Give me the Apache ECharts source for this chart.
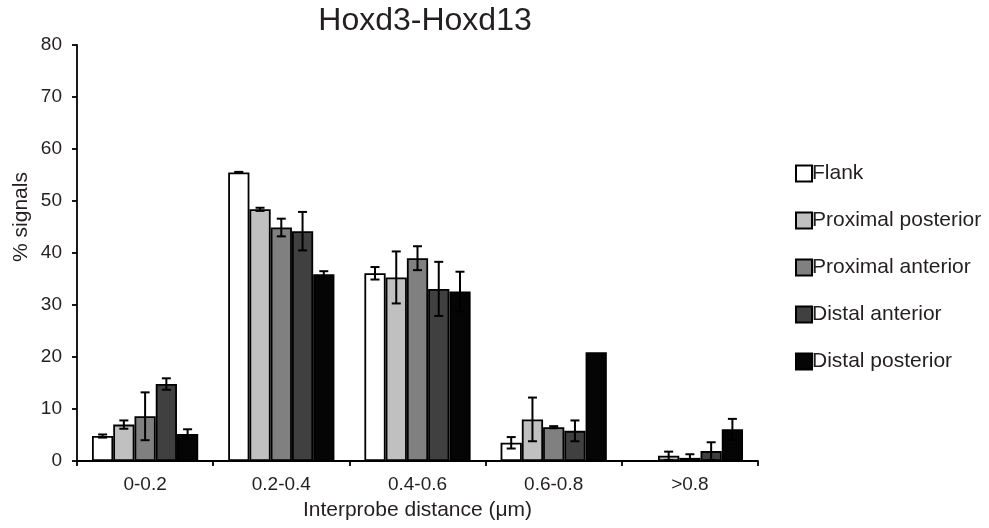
<!DOCTYPE html>
<html><head><meta charset="utf-8">
<script src="https://cdn.jsdelivr.net/npm/echarts@6/dist/echarts.min.js"></script>
<style>html,body{margin:0;padding:0;background:#fff}#c{width:989px;height:528px}</style>
</head><body><div id="c"></div>
<script>
var categories = ['0-0.2', '0.2-0.4', '0.4-0.6', '0.6-0.8', '>0.8'];
var seriesNames = ['Flank', 'Proximal posterior', 'Proximal anterior', 'Distal anterior', 'Distal posterior'];
var colors = ['#ffffff', '#c0c0c0', '#808080', '#404040', '#050505'];
var flank = [4.8, 55.5, 36.1, 3.5, 0];
var proxPost = [7.0, 48.4, 35.3, 8.0, 1.0];
var proxAnt = [8.6, 44.9, 39.0, 6.5, 0.6];
var distAnt = [14.8, 44.2, 33.1, 5.8, 1.9];
var distPost = [5.2, 35.9, 32.6, 20.9, 6.1];
var flankErr = [0.3, 0.1, 1.2, 1.1, 0];
var proxPostErr = [0.8, 0.3, 5.0, 4.2, 0.8];
var proxAntErr = [4.6, 1.7, 2.3, 0.2, 0.7];
var distAntErr = [1.1, 3.7, 5.2, 2.0, 1.7];
var distPostErr = [0.9, 0.6, 3.8, 0, 2.0];
var yTicks = [0, 10, 20, 30, 40, 50, 60, 70, 80];

var values = [flank, proxPost, proxAnt, distAnt, distPost];
var errs = [flankErr, proxPostErr, proxAntErr, distAntErr, distPostErr];
var catGap = 0.22;
var n = values.length;
var FONT = 'Liberation Sans, Arial, sans-serif';
var TXT = '#231f20';

var chart = echarts.init(document.getElementById('c'));
var series = [];
values.forEach(function (vals, si) {
  series.push({
    name: seriesNames[si], type: 'bar', data: vals,
    barGap: '0%', barCategoryGap: (catGap * 100) + '%',
    itemStyle: { color: colors[si], borderColor: '#000', borderWidth: 1.8 },
    z: 2
  });
});
values.forEach(function (vals, si) {
  var data = vals.map(function (v, i) { return [i, v, errs[si][i]]; });
  series.push({
    type: 'custom', name: seriesNames[si] + ' err', data: data, z: 5,
    silent: true, legendHoverLink: false,
    renderItem: function (params, api) {
      var idx = api.value(0), v = api.value(1), e = api.value(2);
      if (!e) return null;
      var band = api.size([1, 0])[0];
      var bw = band * (1 - catGap) / n;
      var c = api.coord([idx, v]);
      var x = c[0] - band * (1 - catGap) / 2 + (si + 0.5) * bw;
      var yt = api.coord([idx, v + e])[1];
      var yb = api.coord([idx, Math.max(0, v - e)])[1];
      var cap = 4.5;
      var st = { stroke: '#000', lineWidth: 2, fill: null };
      return { type: 'group', children: [
        { type: 'line', shape: { x1: x, y1: yt, x2: x, y2: yb }, style: st },
        { type: 'line', shape: { x1: x - cap, y1: yt, x2: x + cap, y2: yt }, style: st },
        { type: 'line', shape: { x1: x - cap, y1: yb, x2: x + cap, y2: yb }, style: st }
      ]};
    }
  });
});

chart.setOption({
  animation: false,
  textStyle: { fontFamily: FONT },
  title: { text: 'Hoxd3-Hoxd13', left: 420, top: 0, textAlign: 'center',
    textStyle: { fontSize: 32, fontWeight: 'normal', color: TXT, fontFamily: FONT } },
  grid: { left: 77, right: 231, top: 45, bottom: 67 },
  legend: {
    orient: 'vertical', left: 795, top: 163, padding: 0, itemGap: 26, itemWidth: 16, itemHeight: 16,
    data: seriesNames,
    textStyle: { fontSize: 21, lineHeight: 21, color: TXT, padding: [0, 0, 0, -5] },
    icon: 'rect'
  },
  xAxis: {
    type: 'category', data: categories,
    name: 'Interprobe distance (\u03bcm)', nameLocation: 'middle', nameGap: 39,
    nameTextStyle: { fontSize: 21, color: TXT },
    axisLine: { lineStyle: { color: '#000', width: 1.8 } },
    axisTick: { show: true, length: 5, lineStyle: { color: '#000', width: 1.8 } },
    axisLabel: { fontSize: 19, color: TXT, margin: 14 }
  },
  yAxis: {
    type: 'value', min: yTicks[0], max: yTicks[yTicks.length - 1], interval: yTicks[1] - yTicks[0],
    splitLine: { show: false },
    axisLine: { show: true, lineStyle: { color: '#000', width: 1.8 } },
    axisTick: { show: true, length: 5, lineStyle: { color: '#000', width: 1.8 } },
    axisLabel: { fontSize: 19, color: TXT, margin: 15 }
  },
  graphic: [{
    type: 'text', x: 21, y: 217, rotation: Math.PI / 2,
    style: { text: '% signals', fontSize: 21, fill: TXT, align: 'center', verticalAlign: 'middle',
      fontFamily: FONT }
  }],
  series: series
});
</script></body></html>
